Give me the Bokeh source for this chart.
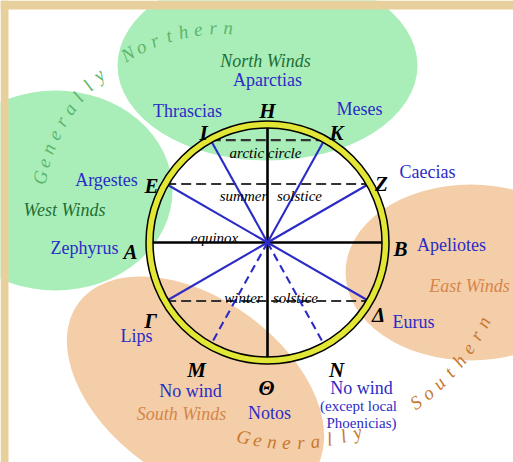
import math
from jinja2 import Template
from bokeh.plotting import figure
from bokeh.models import Range1d
from bokeh.core.properties import value
from bokeh.core.templates import FILE
from bokeh.embed import file_html
from bokeh.resources import INLINE

# ---------------- data ----------------
letters = ["Η", "Κ", "Ζ", "Β", "Δ", "Ν", "Θ", "Μ", "Γ", "Α", "Ε", "Ι"]
bearings = [90, 61, 30, 0, -30, -61, -90, -119, -150, 180, 150, 119]
spoke_kind = ["axis", "wind", "wind", "axis", "wind", "calm",
              "axis", "calm", "wind", "axis", "wind", "wind"]
winds = ["Aparctias", "Meses", "Caecias", "Apeliotes", "Eurus", "No wind",
         "Notos", "No wind", "Lips", "Zephyrus", "Argestes", "Thrascias"]
wind_notes = ["(except local", "Phoenicias)"]
latitude_words = ["arctic circle", "summer", "solstice", "equinox", "winter", "solstice"]
latitude_chords = [("Ι", "Κ"), ("Ε", "Ζ"), ("Γ", "Δ")]
regions = ["North Winds", "West Winds", "East Winds", "South Winds"]
arc_north_words = ["Generally", "Northern"]
arc_south_words = ["Generally", "Southern"]

# ---------------- layout ----------------
W, H = 513, 462
def up(y):
    return H - y

CX, CY, R = 267, up(242), 117
SERIF = value("Liberation Serif")
BLUE = "#2B2BC6"
DKGREEN = "#1F6E35"
ORANGE = "#D4854A"

p = figure(width=W, height=H, x_range=Range1d(0, W), y_range=Range1d(0, H),
           output_backend="svg", toolbar_location=None, min_border=0,
           x_axis_location=None, y_axis_location=None,
           background_fill_color="white", border_fill_color="white",
           outline_line_color=None)
p.grid.visible = False

# wind-region blobs
p.ellipse(x=[267, 55], y=[up(65), up(190)], width=[300, 234], height=[190, 200],
          fill_color="#A9EEB9", line_color=None)
p.ellipse(x=[470, 195], y=[up(272), up(388)], width=[250, 290], height=[176, 180],
          angle=[0, math.radians(-36)], fill_color="#F4CEA8", line_color=None)

# spoke end points on the ring
ends = {}
for l, b in zip(letters, bearings):
    a = math.radians(b)
    ends[l] = (CX + R * math.cos(a), CY + R * math.sin(a))

# latitude chords (dashed)
p.segment(x0=[ends[a][0] for a, b in latitude_chords], y0=[ends[a][1] for a, b in latitude_chords],
          x1=[ends[b][0] for a, b in latitude_chords], y1=[ends[b][1] for a, b in latitude_chords],
          line_color="#333333", line_width=2.2, line_dash="10 5")

for kind, color, width, dash in [("axis", "black", 2.6, "solid"),
                                 ("wind", BLUE, 2.1, "solid"),
                                 ("calm", BLUE, 2.1, "8 5")]:
    sel = [l for l, k in zip(letters, spoke_kind) if k == kind]
    p.segment(x0=[CX] * len(sel), y0=[CY] * len(sel),
              x1=[ends[l][0] for l in sel], y1=[ends[l][1] for l in sel],
              line_color=color, line_width=width, line_dash=dash)

# ring
p.circle(x=[CX], y=[CY], radius=118, fill_color=None, line_color="black", line_width=8.5)
p.circle(x=[CX], y=[CY], radius=118, fill_color=None, line_color="#E2E635", line_width=5.5)

# greek letters
letter_pos = {"Η": (267, 110), "Κ": (336, 132), "Ζ": (381, 183), "Β": (400, 248),
              "Δ": (378, 314), "Ν": (336, 369), "Θ": (266, 387), "Μ": (196, 369),
              "Γ": (150, 320), "Α": (130, 251), "Ε": (151, 185), "Ι": (203, 132)}
p.text(x=[letter_pos[l][0] for l in letters], y=[up(letter_pos[l][1]) for l in letters],
       text=letters, text_font=SERIF, text_font_size=value("21px"),
       text_font_style="bold italic", text_color="black",
       text_align="center", text_baseline="alphabetic")

# wind names
wind_pos = [(267, 79), (359, 108), (427, 171), (451, 244), (413, 321), (361, 387),
            (269, 412), (190, 390), (136, 335), (84, 247), (106, 179), (187, 110)]
p.text(x=[q[0] for q in wind_pos], y=[up(q[1]) for q in wind_pos], text=winds,
       text_font=SERIF, text_font_size=value("18px"), text_color=BLUE,
       text_align="center", text_baseline="alphabetic")
p.text(x=[358, 361], y=[up(405), up(422)], text=wind_notes,
       text_font=SERIF, text_font_size=value("15px"), text_color=BLUE,
       text_align="center", text_baseline="alphabetic")

# latitude labels
lat_pos = [(265, 152), (243, 195), (299, 195), (214, 237), (243, 297), (295, 297)]
p.text(x=[q[0] for q in lat_pos], y=[up(q[1]) for q in lat_pos], text=latitude_words,
       text_font=SERIF, text_font_size=value("15px"), text_font_style="italic",
       text_color="black", text_align="center", text_baseline="alphabetic")

# region names
reg_pos = [(265, 60), (64, 209), (469, 285), (181, 413)]
reg_col = [DKGREEN, DKGREEN, ORANGE, ORANGE]
p.text(x=[q[0] for q in reg_pos], y=[up(q[1]) for q in reg_pos], text=regions,
       text_font=SERIF, text_font_size=value("18px"), text_font_style="italic",
       text_color=reg_col, text_align="center", text_baseline="alphabetic")

# arc titles, one letter at a time along a circle
def arc_text(words, starts, steps, cx, cy, r, sign, color):
    xs, ys, ts, angs = [], [], [], []
    for w, s, st in zip(words, starts, steps):
        for i, ch in enumerate(w):
            phi = s + sign * st * i
            a = math.radians(phi)
            xs.append(cx + r * math.cos(a))
            ys.append(cy + r * math.sin(a))
            ts.append(ch)
            angs.append(math.radians(phi - 90 if sign < 0 else phi + 90))
    p.text(x=xs, y=ys, text=ts, angle=angs, text_font=SERIF,
           text_font_size=value("19px"), text_font_style="italic",
           text_color=color, text_align="center", text_baseline="middle")

arc_text(arc_north_words, [168.6, 120.8], [4.6, 4.6], 223, up(214), 187, -1, "#5DB56B")
arc_text(arc_south_words, [-103.0, -54.3], [3.875, 4.07], 291, up(229), 213, 1, "#C8782F")

# papyrus frame (top and left), drawn over everything
p.quad(left=[0, 0], right=[8, W], bottom=[0, up(9)], top=[H, H],
       fill_color="#E7D09B", line_color=None)

page = Template("""{% extends base %}
{% block preamble %}<style>html, body {margin:0 !important; padding:0 !important; overflow:hidden !important; background:#ffffff !important;}</style>{% endblock %}""")

open("out.html", "w", encoding="utf-8").write(
    file_html(p, INLINE, title="Winds", template=page, template_variables={"base": FILE}))
